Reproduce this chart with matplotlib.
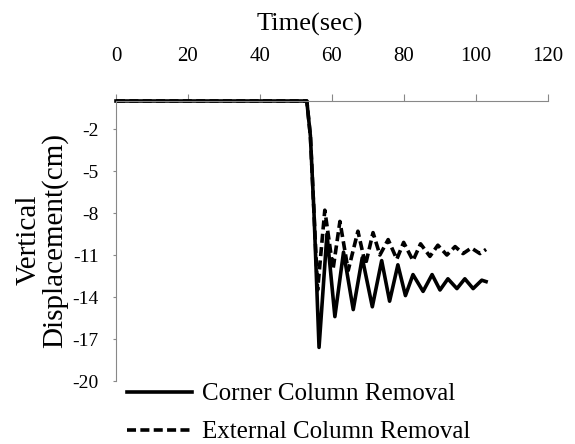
import matplotlib
matplotlib.use("Agg")
from matplotlib import pyplot as plt

plt.rcParams['font.family'] = ['Liberation Serif', 'DejaVu Serif']
plt.rcParams['axes.unicode_minus'] = False

# Corner column removal (solid)
corner_t = [0, 53, 54, 55, 56.4, 58.6, 60.8, 63.2, 65.9, 68.4, 71.2, 73.8, 76.0, 78.3,
            80.4, 82.5, 85.3, 87.8, 90.0, 92.2, 94.7, 96.9, 99.2, 101.6, 102.8]
corner_y = [0, 0, -2.5, -8, -17.6, -9.5, -15.4, -10.8, -14.9, -11.2, -14.7, -11.4, -14.3, -11.7,
            -13.9, -12.4, -13.6, -12.4, -13.5, -12.7, -13.4, -12.7, -13.4, -12.8, -12.9]

# External column removal (dashed)
external_t = [0, 53, 54, 55, 56.0, 58.0, 60.3, 62.2, 64.5, 67.2, 69.3, 71.4, 73.3, 75.6,
              78.0, 79.9, 82.5, 84.6, 87.2, 89.4, 91.9, 94.2, 96.4, 98.7, 101.1, 102.8]
external_y = [0, 0, -2.5, -8, -13.5, -7.8, -12.0, -8.6, -12.1, -9.3, -11.7, -9.4, -11.0, -9.9,
              -11.3, -10.1, -11.4, -10.2, -11.1, -10.3, -11.0, -10.4, -10.9, -10.5, -10.9, -10.6]

x_ticks = [0, 20, 40, 60, 80, 100, 120]
y_ticks = [-20, -17, -14, -11, -8, -5, -2]

W, H = 575, 444
fig = plt.figure(figsize=(W / 100, H / 100), dpi=100)
ax = fig.add_axes([116 / W, 1 - 381 / H, 432 / W, 280 / H])

ax.plot(corner_t, corner_y, color='k', lw=2.6, solid_joinstyle='round',
        label='Corner Column Removal', clip_on=False)
ax.plot(external_t, external_y, color='k', lw=2.6, ls=(0, (2.5, 1.2)),
        label='External Column Removal', clip_on=False)

ax.set_xlim(0, 120)
ax.set_ylim(-20, 0)
ax.set_xticks(x_ticks)
ax.set_yticks(y_ticks)

grey = '#888888'
ax.spines['bottom'].set_visible(False)
ax.spines['right'].set_visible(False)
ax.spines['top'].set_color(grey)
ax.spines['left'].set_color(grey)

ax.xaxis.tick_top()
ax.xaxis.set_label_position('top')
ax.tick_params(axis='x', direction='out', length=5, color=grey, labelsize=15, pad=20)
ax.tick_params(axis='y', direction='out', length=2.5, color=grey, labelsize=14, pad=10)

ax.set_xlabel('Time(sec)', fontsize=19)
ax.xaxis.set_label_coords(0.449, 1.25)

fig.text(42 / W, 1 - 240 / H, 'Vertical\nDisplacement(cm)', rotation=90, fontsize=21,
         ha='center', va='center', linespacing=0.95, multialignment='center')

ax.legend(loc='upper left', bbox_to_anchor=(127 / W, 1 - 383 / H), bbox_transform=fig.transFigure,
          frameon=False, fontsize=18, handlelength=2.6, handletextpad=0.4,
          borderpad=0, borderaxespad=0, labelspacing=0.62)

fig.savefig('out.png', dpi=100)
